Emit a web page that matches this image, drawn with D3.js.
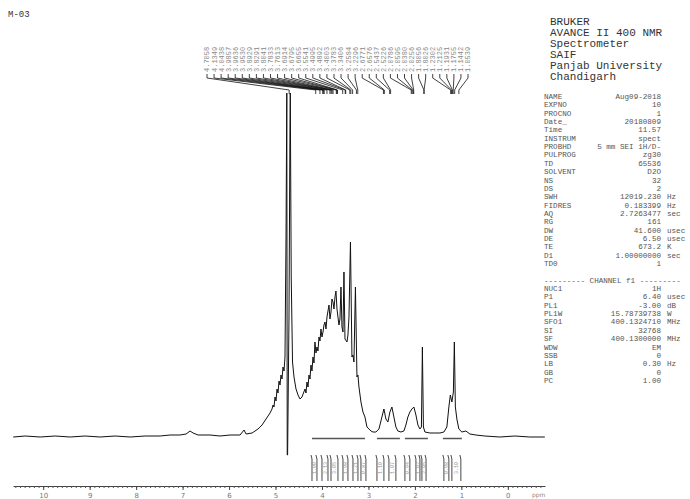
<!DOCTYPE html>
<html>
<head>
<meta charset="utf-8">
<script src="https://cdn.jsdelivr.net/npm/d3@7/dist/d3.min.js"></script>
<style>
  body { margin: 0; background: #fff; }
  svg { display: block; }
</style>
</head>
<body>
<div id="chart"></div>
<script>
// 1H NMR spectrum, sample M-03

// spectrum trace: [chemical shift (ppm), intensity (arbitrary)]
const spectrum = [
  [10.645, 0], [10.387, 1], [10.065, 0], [9.742, 1], [9.419, 0], [9.097, 1], [8.774, 0],
  [8.452, 1], [8.129, 0], [7.806, 1], [7.484, 1], [7.269, 2], [7.054, 2], [6.925, 3],
  [6.839, 6], [6.774, 4], [6.667, 2], [6.409, 2], [6.194, 1], [5.978, 2], [5.763, 2],
  [5.677, 7], [5.634, 3], [5.505, 4], [5.376, 8], [5.290, 12], [5.204, 18], [5.118, 24],
  [5.075, 28], [5.054, 32], [5.032, 30], [5.011, 40], [4.989, 36], [4.968, 48], [4.946, 44],
  [4.925, 56], [4.903, 52], [4.882, 62], [4.860, 58], [4.839, 70], [4.817, 66], [4.796, 80],
  [4.774, 200], [4.757, 344], [4.748, -18], [4.740, -18], [4.710, 120], [4.690, 300],
  [4.682, 344], [4.662, 160], [4.634, 75], [4.602, 60], [4.559, 48], [4.516, 42], [4.473, 38],
  [4.430, 40], [4.366, 48], [4.344, 44], [4.323, 55], [4.301, 50], [4.280, 62], [4.258, 58],
  [4.237, 72], [4.215, 66], [4.194, 80], [4.172, 74], [4.151, 95], [4.129, 84], [4.108, 90],
  [4.086, 86], [4.065, 100], [4.043, 96], [4.022, 108], [4.000, 100], [3.978, 105], [3.957, 112],
  [3.935, 115], [3.914, 108], [3.892, 120], [3.871, 126], [3.849, 132], [3.828, 118], [3.806, 125],
  [3.785, 138], [3.763, 135], [3.742, 128], [3.720, 140], [3.699, 146], [3.677, 128], [3.656, 120],
  [3.634, 112], [3.613, 118], [3.591, 150], [3.570, 110], [3.548, 105], [3.527, 165], [3.505, 98],
  [3.462, 95], [3.441, 102], [3.419, 120], [3.387, 195], [3.355, 80], [3.333, 82], [3.312, 75],
  [3.280, 150], [3.247, 60], [3.226, 62], [3.204, 50], [3.161, 35], [3.118, 25], [3.075, 20],
  [3.032, 10], [2.989, 8], [2.946, 6], [2.903, 5], [2.839, 5], [2.774, 8], [2.710, 20],
  [2.667, 28], [2.624, 18], [2.581, 15], [2.538, 25], [2.495, 30], [2.452, 20], [2.409, 10],
  [2.366, 6], [2.301, 5], [2.237, 6], [2.194, 12], [2.151, 20], [2.108, 25], [2.065, 28],
  [2.022, 30], [1.978, 22], [1.935, 12], [1.892, 8], [1.860, 10], [1.839, 90], [1.817, 10],
  [1.785, 5], [1.677, 4], [1.570, 4], [1.462, 4], [1.376, 5], [1.312, 10], [1.269, 30],
  [1.237, 42], [1.204, 35], [1.172, 45], [1.151, 95], [1.129, 30], [1.097, 18], [1.054, 8],
  [0.989, 5], [0.903, 6], [0.817, 3], [0.688, 2], [0.495, 1], [0.172, 0], [-0.151, 1],
  [-0.473, 0], [-0.796, 0]
];

// picked peaks (labels across the top)
const peakPpm = [4.7058, 4.1349, 4.0438, 3.9857, 3.9636, 3.9530, 3.8929, 3.8291, 3.8041, 3.7833,
  3.7613, 3.6914, 3.6795, 3.6655, 3.5541, 3.4995, 3.4892, 3.4003, 3.3783, 3.3406,
  3.2584, 3.2296, 2.6771, 2.6576, 2.5437, 2.5226, 2.0786, 2.0595, 2.0380, 2.0256,
  1.8056, 1.8026, 1.2302, 1.2125, 1.1931, 1.1755, 1.1442, 1.0539];

// integration bars under the trace (ppm ranges)
const barStart = [4.215, 2.817, 2.215, 1.398];
const barEnd = [3.075, 2.323, 1.720, 0.989];

// integral regions with values
const integralStart = [4.215, 4.000, 3.806, 3.548, 3.333, 3.161, 2.817, 2.559, 2.215, 1.978, 1.849, 1.376, 1.204];
const integralEnd = [4.108, 3.871, 3.656, 3.441, 3.226, 3.054, 2.667, 2.409, 2.108, 1.892, 1.760, 1.269, 1.011];
const integralValue = ['1.00', '2.13', '3.05', '1.98', '1.21', '0.87', '1.10', '1.07', '0.94', '1.02', '2.95', '0.98', '3.10'];

const axisTicks = [10, 9, 8, 7, 6, 5, 4, 3, 2, 1, 0];

// acquisition / processing parameters
const headerLines = ['BRUKER', 'AVANCE II 400 NMR', 'Spectrometer', 'SAIF', 'Panjab University', 'Chandigarh'];
const paramNames = ['NAME', 'EXPNO', 'PROCNO', 'Date_', 'Time', 'INSTRUM', 'PROBHD', 'PULPROG', 'TD', 'SOLVENT',
  'NS', 'DS', 'SWH', 'FIDRES', 'AQ', 'RG', 'DW', 'DE', 'TE', 'D1', 'TD0'];
const paramValues = ['Aug09-2018', '10', '1', '20180809', '11.57', 'spect', '5 mm SEI 1H/D-', 'zg30', '65536', 'D2O',
  '32', '2', '12019.230', '0.183399', '2.7263477', '161', '41.600', '6.50', '673.2', '1.00000000', '1'];
const paramUnits = ['', '', '', '', '', '', '', '', '', '',
  '', '', 'Hz', 'Hz', 'sec', '', 'usec', 'usec', 'K', 'sec', ''];
const channelNames = ['NUC1', 'P1', 'PL1', 'PL1W', 'SFO1', 'SI', 'SF', 'WDW', 'SSB', 'LB', 'GB', 'PC'];
const channelValues = ['1H', '6.40', '-3.00', '15.78739738', '400.1324710', '32768', '400.1300000', 'EM', '0', '0.30', '0', '1.00'];
const channelUnits = ['', 'usec', 'dB', 'W', 'MHz', '', 'MHz', '', '', 'Hz', '', ''];

const width = 690, height = 499;
const mono = '"Liberation Mono", "DejaVu Sans Mono", monospace';

const svg = d3.select('#chart').append('svg')
    .attr('width', width)
    .attr('height', height);

svg.append('rect').attr('width', width).attr('height', height).attr('fill', '#fff');

// Scales (ppm runs right to left)
const x = d3.scaleLinear().domain([10.65, -0.8]).range([13, 545]);
const y = d3.scaleLinear().domain([0, 347]).range([437, 90]);

// Sample name
svg.append('text')
    .attr('x', 8).attr('y', 17)
    .attr('font-family', mono).attr('font-size', 9)
    .attr('fill', '#333')
    .text('M-03');

// Spectrum trace
svg.append('path')
    .datum(spectrum)
    .attr('fill', 'none')
    .attr('stroke', '#111')
    .attr('stroke-width', 1)
    .attr('stroke-linejoin', 'round')
    .attr('d', d3.line().x(d => x(d[0])).y(d => y(d[1])));

// Integration bars
svg.append('g').selectAll('line')
    .data(barStart)
    .join('line')
    .attr('x1', d => x(d))
    .attr('x2', (d, i) => x(barEnd[i]))
    .attr('y1', y(-1.5)).attr('y2', y(-1.5))
    .attr('stroke', '#555')
    .attr('stroke-width', 1.5);

// Peak labels and connectors
const labelX = d3.scaleLinear().domain([0, peakPpm.length - 1]).range([207, 468]);
const peaks = svg.append('g');
peaks.selectAll('path')
    .data(peakPpm)
    .join('path')
    .attr('fill', 'none')
    .attr('stroke', '#111')
    .attr('stroke-width', 0.8)
    .attr('d', (d, i) => {
        const lx = labelX(i), px = x(d);
        return `M${lx},74 L${lx},78 L${px},90 L${px},94`;
    });
peaks.selectAll('text')
    .data(peakPpm)
    .join('text')
    .attr('transform', (d, i) => `translate(${labelX(i)},72) rotate(-90)`)
    .attr('dy', '0.35em')
    .attr('font-family', mono).attr('font-size', 7)
    .attr('fill', '#888')
    .text(d => d.toFixed(4));

// Integral markers
const integ = svg.append('g');
integralStart.forEach((s, i) => {
    const x0 = x(s), x1 = x(integralEnd[i]);
    [x0, x1].forEach(xx => {
        integ.append('path')
            .attr('fill', 'none')
            .attr('stroke', '#333')
            .attr('stroke-width', 0.9)
            .attr('d', `M${xx - 1},455 L${xx},459 L${xx},481`);
    });
    integ.append('text')
        .attr('transform', `translate(${(x0 + x1) / 2},468) rotate(-90)`)
        .attr('text-anchor', 'middle')
        .attr('dy', '0.35em')
        .attr('font-family', mono).attr('font-size', 5)
        .attr('fill', '#999')
        .text(integralValue[i]);
});

// Axis
const axisG = svg.append('g').attr('transform', 'translate(0,486)');
axisG.append('g')
    .call(d3.axisBottom(x)
        .tickValues(d3.range(-7, 107).map(d => d / 10))
        .tickSize(2)
        .tickSizeOuter(0)
        .tickFormat(''))
    .call(g => g.selectAll('line').attr('stroke', '#555'))
    .call(g => g.select('.domain').attr('stroke', '#444'));
axisG.append('g')
    .call(d3.axisBottom(x)
        .tickValues(axisTicks)
        .tickSize(4)
        .tickSizeOuter(0)
        .tickFormat(d3.format('d')))
    .call(g => g.select('.domain').remove())
    .call(g => g.selectAll('line').attr('stroke', '#444'))
    .call(g => g.selectAll('text')
        .attr('font-family', '"DejaVu Sans", sans-serif')
        .attr('font-size', 7)
        .attr('fill', '#777'));
svg.append('text')
    .attr('x', 532).attr('y', 497)
    .attr('font-family', '"DejaVu Sans", sans-serif')
    .attr('font-size', 6)
    .attr('fill', '#888')
    .text('ppm');

// Parameter panel
const panel = svg.append('g').attr('font-family', mono);
headerLines.forEach((t, i) => {
    panel.append('text')
        .attr('x', 550).attr('y', 25 + i * 11)
        .attr('font-size', 11)
        .attr('fill', '#333')
        .text(t);
});

const rowH = 8.35;
function paramRow(name, value, unit, row) {
    const yy = 99 + row * rowH;
    panel.append('text').attr('x', 544).attr('y', yy)
        .attr('font-size', 7.6).attr('fill', '#555').text(name);
    panel.append('text').attr('x', 661).attr('y', yy)
        .attr('text-anchor', 'end')
        .attr('font-size', 7.6).attr('fill', '#555').text(value);
    if (unit) {
        panel.append('text').attr('x', 667).attr('y', yy)
            .attr('font-size', 7.6).attr('fill', '#555').text(unit);
    }
}
paramNames.forEach((n, i) => paramRow(n, paramValues[i], paramUnits[i], i));
panel.append('text')
    .attr('x', 544).attr('y', 99 + 22 * rowH)
    .attr('font-size', 7.6).attr('fill', '#555')
    .attr('xml:space', 'preserve')
    .text('--------- CHANNEL f1 ---------');
channelNames.forEach((n, i) => paramRow(n, channelValues[i], channelUnits[i], 23 + i));
</script>
</body>
</html>
